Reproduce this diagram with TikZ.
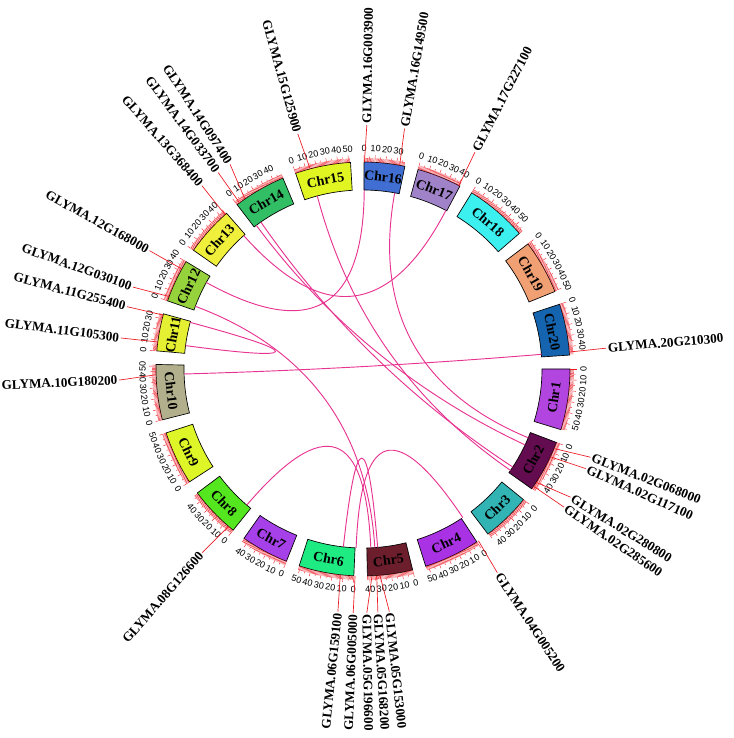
\documentclass[tikz,border=0pt]{standalone}
\usepackage{fontspec}
\setmainfont{Liberation Serif}
\setsansfont{Liberation Sans}
\usetikzlibrary{calc}

\definecolor{c1}{RGB}{178,68,224}
\definecolor{c2}{RGB}{100,12,80}
\definecolor{c3}{RGB}{50,180,180}
\definecolor{c4}{RGB}{168,50,228}
\definecolor{c5}{RGB}{108,30,44}
\definecolor{c6}{RGB}{30,235,130}
\definecolor{c7}{RGB}{166,64,232}
\definecolor{c8}{RGB}{84,230,30}
\definecolor{c9}{RGB}{222,245,40}
\definecolor{c10}{RGB}{178,176,140}
\definecolor{c11}{RGB}{230,240,50}
\definecolor{c12}{RGB}{150,210,60}
\definecolor{c13}{RGB}{240,240,60}
\definecolor{c14}{RGB}{50,190,100}
\definecolor{c15}{RGB}{225,245,35}
\definecolor{c16}{RGB}{65,110,210}
\definecolor{c17}{RGB}{160,130,200}
\definecolor{c18}{RGB}{60,240,240}
\definecolor{c19}{RGB}{240,160,115}
\definecolor{c20}{RGB}{20,100,175}
\definecolor{tickred}{RGB}{235,25,35}
\definecolor{linkpink}{RGB}{232,52,145}

\tikzset{
  chrbox/.style={draw=black,line width=0.5pt},
  chrname/.style={font=\bfseries\fontsize{10.4}{11}\selectfont,inner sep=0pt},
  ticklab/.style={font=\sffamily\fontsize{6.8}{7}\selectfont,inner sep=0pt},
  tickmark/.style={draw=tickred,line width=0.3pt},
  gline/.style={draw=tickred,line width=0.5pt},
  glabel/.style={font=\bfseries\fontsize{9.9}{11}\selectfont,inner sep=0.5pt},
  link/.style={draw=linkpink,line width=0.7pt}
}

\begin{document}
\begin{tikzpicture}[x=0.75pt,y=0.75pt]
\useasboundingbox (-363,-369) rectangle (370,369);
\coordinate (o) at (0,0);

% chromosomes: number / start angle / length (Mb)
\foreach \n/\s/\l in {1/0/56.8,2/-20.8/48.6,3/-39.14/45.8,4/-56.64/52.4,
  5/-76.12/42.2,6/-92.54/51.4,7/-111.72/44.6,8/-128.86/47.8,
  9/-146.96/50.2,10/-165.78/51.6,11/-185.02/34.8,12/-199.22/40.1,
  13/-215.01/45.9,14/-232.54/49.0,15/-251.0/51.8,16/-270.3/37.9,
  17/-285.43/41.6,18/-301.67/58.0,19/-322.83/50.6,20/-341.77/47.9}{
  \pgfmathsetmacro\e{\s-0.3*\l}
  \pgfmathsetmacro\m{(\s+\e)/2}
  \pgfmathsetmacro\rot{mod(\m+630,360)}
  \pgfmathsetmacro\rot{(\rot>90 && \rot<270) ? \rot-180 : \rot}
  \filldraw[chrbox,fill=c\n] (\s:179) arc[start angle=\s,end angle=\e,radius=179]
    -- (\e:207) arc[start angle=\e,end angle=\s,radius=207] -- cycle;
  \node[chrname,rotate=\rot] (chr\n) at (\m:193) {Chr\n};
  % ticks
  \pgfmathtruncatemacro\L{\l}
  \foreach \p in {0,...,\L}{
    \pgfmathsetmacro\t{\s-0.3*\p}
    \pgfmathsetmacro\tl{mod(\p,10)==0 ? 214 : (mod(\p,5)==0 ? 212.5 : 211)}
    \draw[tickmark] (\t:207) -- (\t:\tl);
  }
  \pgfmathtruncatemacro\K{\l/10}
  \foreach \k in {0,...,\K}{
    \pgfmathsetmacro\t{\s-3*\k}
    \pgfmathsetmacro\tr{mod(\t+630,360)}
    \pgfmathsetmacro\tr{(\tr>90 && \tr<270) ? \tr-180 : \tr}
    \pgfmathtruncatemacro\v{10*\k}
    \node[ticklab,rotate=\tr] at (\t:220.5) {\v};
  }
}

% genes: name / tick angle / label angle / id
\foreach \id/\a/\b/\g in {g02a/-22.6/-21.2/02G068000,g02b/-25.1/-24.1/02G117100,
  g02c/-33.2/-31.7/02G280800,g02d/-34.5/-34.5/02G285600,g04/-56.1/-56.6/04G005200,
  g05a/-85.3/-83.8/05G153000,g05b/-86.2/-86.5/05G168200,g05c/-87.5/-89.1/05G196600,
  g06a/-92.2/-92.3/06G005000,g06b/-96.3/-95.9/06G159100,g08/-130.5/-131.2/08G126600,
  g10/181.6/182.6/10G180200,g11a/172.5/172.7/11G105300,g11b/164.9/165.2/11G255400,
  g12a/159.5/160.4/12G030100,g12b/151.1/151/12G168000,g13/131.8/131.3/13G368400,
  g14a/126.6/126.4/14G033700,g14b/124.8/123/14G097400,g15/104.8/105.5/15G125900,
  g16a/89.6/89.1/16G003900,g16b/79.8/80.2/16G149500,g17/62.4/62.7/17G227100,
  g20/4.7/4.9/20G210300}{
  \coordinate (\id) at (\a:179);
  \coordinate (\id t) at (\a:207);
  \coordinate (\id l) at (\b:244);
  \pgfmathtruncatemacro\isr{cos(\b)>0}
  \pgfmathsetmacro\gr{cos(\b)>0 ? \b : \b+180}
  \ifnum\isr=1 \def\an{west}\else\def\an{east}\fi
  \draw[gline] (\id t) -- (\id l);
  \node[glabel,anchor=\an,rotate=\gr] (\id n) at (\b:245) {GLYMA.\g};
}

% links
\foreach \u/\v in {g10/g20,g11a/g11b,g12a/g05b,g12b/g16a,g13/g17,g04/g06a,
  g08/g05c,g06b/g05a,g14a/g02b,g14b/g02c,g15/g02d,g16b/g02a}
  \draw[link] (\u) .. controls ($(\u)!2/3!(o)$) and ($(\v)!2/3!(o)$) .. (\v);

\end{tikzpicture}
\end{document}
